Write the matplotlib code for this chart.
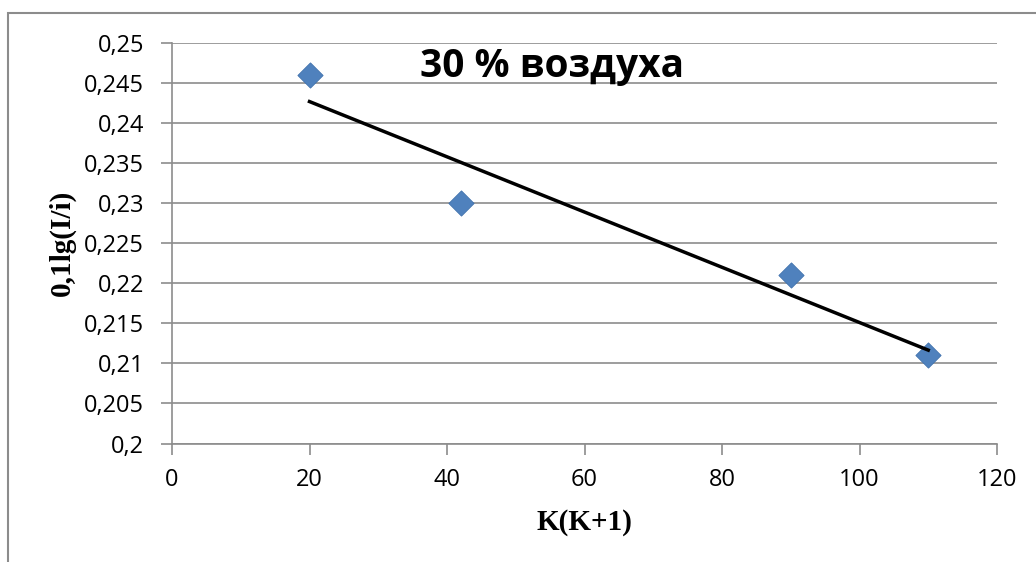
import numpy as np
import matplotlib
matplotlib.use("Agg")
import matplotlib.pyplot as plt
from matplotlib.patches import Rectangle
from matplotlib.ticker import FuncFormatter

# Data
x_vals = [20, 42, 90, 110]
y_vals = [0.246, 0.230, 0.221, 0.211]
title_text = "30 % воздуха"
x_label = "K(K+1)"
y_label = "0,1lg(I/i)"
x_ticks = [0, 20, 40, 60, 80, 100, 120]
y_ticks = [0.2, 0.205, 0.21, 0.215, 0.22, 0.225, 0.23, 0.235, 0.24, 0.245, 0.25]

W, H = 1036, 562
fig = plt.figure(figsize=(W / 100, H / 100), dpi=100)
fig.patch.set_facecolor("white")

# outer chart frame (cut at right/bottom)
fig.patches.append(Rectangle((8 / W, -0.05), 1.2, 1 - 13 / H + 0.05,
                             transform=fig.transFigure, fill=False,
                             edgecolor="#8c8c8c", linewidth=1.5))

left, right = 172 / W, 997 / W
bottom, top = 1 - 443.5 / H, 1 - 43 / H
ax = fig.add_axes([left, bottom, right - left, top - bottom])

ax.set_xlim(0, 120)
ax.set_ylim(0.2, 0.25)
ax.set_xticks(x_ticks)
ax.set_yticks(y_ticks)

def comma_fmt(v, pos):
    s = f"{v:.3f}".rstrip("0").rstrip(".")
    return s.replace(".", ",")

ax.yaxis.set_major_formatter(FuncFormatter(comma_fmt))
ax.xaxis.set_major_formatter(FuncFormatter(lambda v, p: f"{int(v)}"))

ax.grid(axis="y", color="#8c8c8c", linewidth=1.2)
ax.set_axisbelow(True)
for s in ["top", "right"]:
    ax.spines[s].set_visible(False)
for s in ["left", "bottom"]:
    ax.spines[s].set_color("#8c8c8c")
    ax.spines[s].set_linewidth(1.2)

ax.tick_params(axis="both", direction="out", length=8, width=1.2,
               color="#8c8c8c", labelsize=17, labelcolor="black")
ax.tick_params(axis="x", pad=10)
ax.tick_params(axis="y", pad=12)
for lbl in ax.get_xticklabels() + ax.get_yticklabels():
    lbl.set_fontfamily("Open Sans")

ax.scatter(x_vals, y_vals, marker="D", s=165, color="#4F81BD",
           edgecolors="#3F71AD", linewidths=0.6, zorder=4, clip_on=False)

# trend line (linear least squares), drawn over the markers as in Excel
coef = np.polyfit(x_vals, y_vals, 1)
xt = np.array([min(x_vals), max(x_vals)])
ax.plot(xt, np.polyval(coef, xt), color="black", linewidth=2.5, zorder=5)

ax.text(552 / W, 1 - 66 / H, title_text, transform=fig.transFigure,
        ha="center", va="center", fontsize=28, fontweight="bold",
        fontfamily="Open Sans")

ax.set_xlabel(x_label, fontsize=21, fontweight="bold",
              fontfamily="Liberation Serif", labelpad=12)
ax.set_ylabel(y_label, fontsize=21, fontweight="bold",
              fontfamily="Liberation Serif", labelpad=6)

fig.savefig("out.png", dpi=100)
